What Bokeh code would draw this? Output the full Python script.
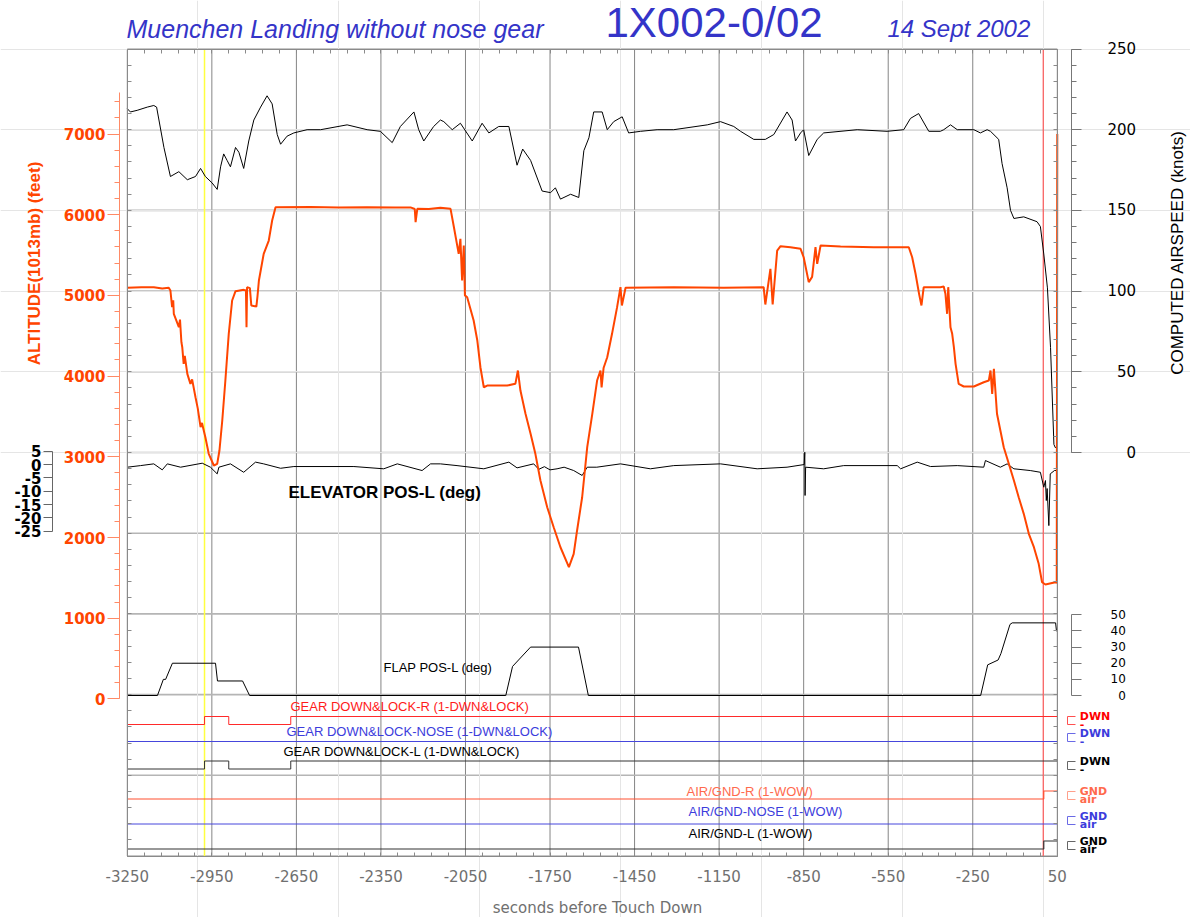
from bokeh.plotting import figure
from bokeh.models import Range1d, LinearAxis, FixedTicker, Label
from bokeh.embed import file_html
from bokeh.resources import INLINE

# ---------------- data ----------------
x_ticks = [-3250, -2950, -2650, -2350, -2050, -1750, -1450, -1150, -850, -550, -250, 50]
x_minor = list(range(-3250, 51, 60))
alt_ticks = [0, 1000, 2000, 3000, 4000, 5000, 6000, 7000]
spd_ticks = [0, 50, 100, 150, 200, 250]
elev_ticks = [5, 0, -5, -10, -15, -20, -25]
flap_ticks = [0, 10, 20, 30, 40, 50]
grid_kt = [-250, -200, -150, -100, -50, 0, 50, 100, 150, 200, 250]

alt_t = [-3250, -3200, -3156, -3126, -3103, -3097, -3091, -3087, -3085, -3067, -3063, -3058, -3055,
         -3050, -3046, -3037, -3026, -3020, -3008, -3000, -2990, -2985, -2973, -2961, -2943, -2931,
         -2923, -2913, -2902, -2890, -2878, -2866, -2837, -2829, -2827, -2825, -2815, -2810, -2792,
         -2788, -2783, -2766, -2748, -2736, -2724, -2600, -2500, -2400, -2300, -2245, -2230, -2227,
         -2221, -2180, -2139, -2103, -2091, -2074, -2068, -2062, -2056, -2052, -2044, -2021, -2008,
         -1997, -1985, -1973, -1902, -1873, -1864, -1855, -1837, -1819, -1802, -1784, -1760, -1737,
         -1713, -1683, -1666, -1654, -1636, -1618, -1600, -1583, -1571, -1567, -1560, -1547, -1530,
         -1512, -1500, -1495, -1482, -1311, -1134, -992, -986, -968, -960, -944, -932, -897, -861,
         -850, -832, -820, -808, -802, -790, -719, -601, -477, -465, -453, -440, -432, -424, -365,
         -353, -347, -341, -337, -329, -323, -317, -311, -300, -282, -246, -211, -193, -187, -181,
         -175, -164, -152, -140, -122, -104, -87, -69, -51, -33, -16, -4, 8, 43, 48, 50]
alt_ft = [5094, 5100, 5102, 5085, 5094, 5061, 4854, 4940, 4772, 4606, 4700, 4420, 4358,
          4152, 4250, 4028, 3904, 3960, 3738, 3600, 3367, 3420, 3243, 3037, 2892, 2913,
          3078, 3450, 3945, 4524, 4937, 5052, 5069, 5060, 4606, 5102, 5090, 4875, 4862,
          4990, 5185, 5515, 5680, 5928, 6093, 6095, 6090, 6092, 6088, 6090, 6070, 5907,
          6073, 6070, 6085, 6073, 5845, 5515, 5700, 5185, 5618, 5000, 4978, 4689, 4441,
          4110, 3862, 3883, 3883, 3904, 4069, 3821, 3533, 3285, 3037, 2706, 2375, 2127,
          1879, 1632, 1798, 2087, 2499, 3119, 3533, 3945, 4069, 3860, 4100, 4234, 4524,
          4854, 5102, 4875, 5094, 5102, 5094, 5102, 4887, 5330, 4887, 5556, 5610, 5597, 5577,
          5473, 5164, 5230, 5597, 5390, 5618, 5606, 5597, 5597, 5473, 5268, 5010, 4875, 5102, 5102,
          5110, 5020, 4772, 5102, 4606, 4524, 4358, 4152, 3904, 3871, 3871, 3924, 3945, 4069, 3780,
          4090, 3533, 3326, 3119, 2913, 2706, 2499, 2293, 2045, 1880, 1674, 1446, 1418, 1446, 1440, 7000]

spd_t = [-3250, -3239, -3215, -3179, -3156, -3146, -3120, -3097, -3067, -3037, -3008, -2990, -2973,
         -2949, -2931, -2919, -2908, -2896, -2884, -2866, -2854, -2837, -2819, -2801, -2777, -2754,
         -2736, -2718, -2706, -2683, -2659, -2612, -2564, -2470, -2399, -2352, -2310, -2281, -2233,
         -2216, -2198, -2163, -2139, -2127, -2103, -2097, -2068, -2026, -1991, -1967, -1932, -1896,
         -1867, -1847, -1819, -1778, -1748, -1731, -1713, -1677, -1648, -1630, -1612, -1595, -1565,
         -1547, -1524, -1494, -1471, -1429, -1370, -1311, -1192, -1145, -1098, -1074, -1027, -986,
         -956, -909, -891, -879, -861, -850, -832, -802, -779, -660, -554, -495, -471, -442, -406,
         -365, -353, -329, -305, -246, -223, -199, -187, -158, -146, -128, -116, -104, -69, -22,
         -10, 2, 15, 26, 38, 43, 50]
spd_kt = [213, 211, 212, 214, 215, 214, 189, 171, 174, 169, 171, 176, 171,
          167, 163, 177, 185, 181, 177, 189, 186, 176, 193, 206, 214, 221,
          216, 197, 191, 196, 198, 200, 200, 203, 200, 199, 192, 202, 211,
          200, 193, 202, 206, 205, 201, 200, 204, 193, 204, 198, 202, 202,
          178, 188, 181, 162, 161, 164, 157, 160, 158, 187, 195, 211, 211,
          200, 205, 208, 198, 199, 200, 200, 203, 205, 202, 199, 194, 194,
          197, 211, 206, 193, 198, 200, 184, 194, 198, 200, 199, 200, 207, 210, 199,
          199, 200, 203, 200, 200, 198, 200, 199, 194, 179, 164, 150, 145, 146, 143,
          140, 123, 102, 65, 5, 3, 4]

elev_t = [-3250, -3203, -3156, -3126, -3108, -3061, -2984, -2955, -2931, -2925, -2884, -2837, -2795,
          -2766, -2706, -2659, -2446, -2340, -2292, -2204, -2174, -2139, -2080, -1985, -1896, -1867,
          -1808, -1790, -1770, -1750, -1725, -1700, -1666, -1636, -1618, -1584, -1500, -1394, -1311,
          -1145, -1015, -909, -848, -846, -845, -843, -779, -708, -518, -506, -447, -400, -305, -211,
          -205, -152, -128, -104, -46, -10, 2, 8, 11, 14, 20, 25, 40, 50]
elev_deg = [-1.0, -0.4, 0.25, -2.0, 0.25, -1.0, 0.5, -1.0, -3.5, -1.0, 0.25, -2.9, 0.9,
            0.25, -1.4, -0.75, -0.75, -1.6, 0.25, -2.25, 0.25, 0.25, -0.4, -1.6, 0.9, -1.25,
            0.25, -1.8, -0.8, -2.0, -1.6, -1.0, -2.25, -4.1, -1.0, -1.0, 0.25, -1.6, -0.4,
            0.25, -1.6, -1.0, 0.0, 4.6, -11.6, -1.0, -1.6, -0.4, -0.4, -1.6, 0.9, -0.75, -0.4, -1.0,
            1.5, -1.0, 0.25, -1.6, -2.25, -2.9, -8.5, -6.0, -13.5, -9.0, -22.9, -3.5, -2.25, -2.25]

flap_t = [-3250, -3143, -3122, -3114, -3090, -2937, -2930, -2841, -2816, -1907, -1883, -1819,
          -1649, -1614, -222, -197, -160, -150, -118, -110, 44, 47, 50]
flap_deg = [0, 0, 10, 10, 20, 20, 9, 9, 0, 0, 18, 30, 30, 0, 0, 19, 22, 26, 44, 45, 45, 40, 40]

gear_r_t = [-3250, -2976, -2890, -2670, 50]
gear_r = [0, 1, 0, 1, 1]
gear_n_t = [-3250, 50]
gear_n = [0, 0]
gear_l_t = [-3250, -2976, -2890, -2670, 50]
gear_l = [0, 1, 0, 1, 1]
wow_r_t = [-3250, 2, 50]
wow_r = [0, 1, 1]
wow_n_t = [-3250, 50]
wow_n = [0, 0]
wow_l_t = [-3250, 2, 50]
wow_l = [0, 1, 1]

touchdown_t = 0
gear_event_t = -2976

# ---------------- layout ----------------
W, H = 1190, 917
M = 0
X_LEFT_PAGE = 126.8
PX_PER_S = 930.0 / 3300.0
FRAME_T = (x_ticks[0], x_ticks[-1])
FRAME_KT = (grid_kt[0], grid_kt[-1])


def t_at(xp):
    return -3250 + (xp - X_LEFT_PAGE) / PX_PER_S


def vrange(v_ref, yp_ref, ppu):
    top = v_ref + (yp_ref - M) / ppu
    bottom = v_ref - (M + H - yp_ref) / ppu
    return Range1d(start=bottom, end=top)


def kt_at(yp):
    return (452.0 - yp) / 1.614


BLUE = "#3434c8"
ORANGE = "#ff4500"

p = figure(width=W, height=H, output_backend="svg", toolbar_location=None,
           x_axis_location=None, y_axis_location=None,
           x_range=Range1d(t_at(M), t_at(M + W)), y_range=vrange(0, 452, 1.614),
           min_border=0, outline_line_color=None,
           background_fill_color="white", border_fill_color="white")

sig_specs = [
    ("gr", 724.0), ("gn", 741.0), ("gl", 768.5),
    ("wr", 798.5), ("wn", 823.5), ("wl", 848.5),
]
extra = {"alt": vrange(7000, 133.5, 0.0807),
         "elev": vrange(5, 450.7, 2.667),
         "flap": vrange(0, 695, 1.614)}
for name, base in sig_specs:
    extra[name] = vrange(0, base, 8.0)
p.extra_y_ranges = extra

# ---------------- grid (bounded to the plot box) ----------------
p.segment(x0=x_ticks, x1=x_ticks, y0=[FRAME_KT[0]] * len(x_ticks), y1=[FRAME_KT[1]] * len(x_ticks),
          line_color="#858585", line_width=1, level="underlay")
p.segment(x0=[FRAME_T[0]] * len(grid_kt), x1=[FRAME_T[1]] * len(grid_kt), y0=grid_kt, y1=grid_kt,
          line_color="#b5b5b5", line_width=1.6, level="underlay")

# ---------------- frame ticks ----------------
common_frame = dict(major_tick_in=0, major_tick_out=0, minor_tick_out=0, minor_tick_in=4,
                    axis_line_color="#8a8a8a", minor_tick_line_color="#8a8a8a",
                    major_tick_line_color="#8a8a8a")
xb = LinearAxis(fixed_location=FRAME_KT[0], bounds=FRAME_T,
                ticker=FixedTicker(ticks=x_ticks, minor_ticks=x_minor),
                major_label_text_color="#707070", major_label_text_font="DejaVu Sans",
                major_label_text_font_size="15px", major_label_standoff=14,
                major_label_overrides={t: str(t) for t in x_ticks}, **common_frame)
p.add_layout(xb, "below")
xt = LinearAxis(fixed_location=FRAME_KT[1], bounds=FRAME_T,
                ticker=FixedTicker(ticks=x_ticks, minor_ticks=x_minor),
                major_label_text_color=None, **common_frame)
p.add_layout(xt, "above")
frame_kt_minor = list(range(-250, 251, 10))
yl = LinearAxis(fixed_location=FRAME_T[0], bounds=FRAME_KT,
                ticker=FixedTicker(ticks=grid_kt, minor_ticks=frame_kt_minor),
                major_label_text_color=None, **common_frame)
p.add_layout(yl, "left")
yr = LinearAxis(fixed_location=FRAME_T[1], bounds=FRAME_KT,
                ticker=FixedTicker(ticks=grid_kt, minor_ticks=frame_kt_minor),
                major_label_text_color=None, **common_frame)
p.add_layout(yr, "right")

# ---------------- value axes ----------------
alt_ax = LinearAxis(y_range_name="alt", fixed_location=t_at(119), bounds=(0, 7520),
                    ticker=FixedTicker(ticks=alt_ticks, minor_ticks=list(range(0, 7600, 200))),
                    major_tick_out=12, major_tick_in=0, minor_tick_out=5, minor_tick_in=0,
                    axis_line_color="#ff8a66", major_tick_line_color="#ff8a66",
                    minor_tick_line_color="#ff8a66", major_label_text_color=ORANGE,
                    major_label_text_font="DejaVu Sans", major_label_text_font_style="bold",
                    major_label_text_font_size="15px", major_label_standoff=2)
p.add_layout(alt_ax, "left")

elev_ax = LinearAxis(y_range_name="elev", fixed_location=t_at(52), bounds=(-25, 5),
                     ticker=FixedTicker(ticks=elev_ticks, minor_ticks=[]),
                     major_tick_out=9, major_tick_in=0, minor_tick_out=0, minor_tick_in=0,
                     axis_line_color="#666666", major_tick_line_color="#666666",
                     major_label_text_color="black", major_label_text_font="DejaVu Sans",
                     major_label_text_font_style="bold", major_label_text_font_size="15px",
                     major_label_standoff=2,
                     major_label_overrides={v: str(v) for v in elev_ticks})
p.add_layout(elev_ax, "left")

spd_ax = LinearAxis(fixed_location=t_at(1071), bounds=(0, 250),
                    ticker=FixedTicker(ticks=spd_ticks, minor_ticks=list(range(0, 251, 10))),
                    major_tick_out=10, major_tick_in=0, minor_tick_out=5, minor_tick_in=0,
                    axis_line_color="#777777", major_tick_line_color="#777777",
                    minor_tick_line_color="#777777", major_label_text_color="black",
                    major_label_text_font="DejaVu Sans", major_label_text_font_size="15px",
                    major_label_standoff=26,
                    major_label_overrides={0: "\u2007\u20070", 50: "\u200750"})
p.add_layout(spd_ax, "right")

flap_ax = LinearAxis(y_range_name="flap", fixed_location=t_at(1071), bounds=(0, 50),
                     ticker=FixedTicker(ticks=flap_ticks, minor_ticks=[]),
                     major_tick_out=10, major_tick_in=0, minor_tick_out=0, minor_tick_in=0,
                     axis_line_color="#777777", major_tick_line_color="#777777",
                     major_label_text_color="black", major_label_text_font="DejaVu Sans",
                     major_label_text_font_size="12px", major_label_standoff=29,
                     major_label_overrides={0: "\u20070"})
p.add_layout(flap_ax, "right")

sig_style = {
    "gr": ("#ff5050", "#ff0000", "-", "DWN"),
    "gn": ("#6a6ae6", "#3c3cdc", "-", "DWN"),
    "gl": ("#666666", "black", "-", "DWN"),
    "wr": ("#ff9f8a", "#ff6a4d", "air", "GND"),
    "wn": ("#6a6ae6", "#3c3cdc", "air", "GND"),
    "wl": ("#666666", "black", "air", "GND"),
}
for name, base in sig_specs:
    lc, tc, lo, hi = sig_style[name]
    ax = LinearAxis(y_range_name=name, fixed_location=t_at(1067.3), bounds=(0, 1),
                    ticker=FixedTicker(ticks=[0, 1], minor_ticks=[]),
                    major_tick_out=8, major_tick_in=0, minor_tick_out=0, minor_tick_in=0,
                    axis_line_color=lc, major_tick_line_color=lc,
                    major_label_text_color=tc, major_label_text_font="DejaVu Sans",
                    major_label_text_font_style="bold", major_label_text_font_size="11px",
                    major_label_standoff=4, major_label_overrides={0: lo, 1: hi})
    p.add_layout(ax, "right")

# ---------------- data glyphs ----------------
p.segment(x0=[gear_event_t], x1=[gear_event_t], y0=[FRAME_KT[0]], y1=[FRAME_KT[1]],
          line_color="#ffff40", line_width=1.5)
p.segment(x0=[touchdown_t], x1=[touchdown_t], y0=[FRAME_KT[0]], y1=[FRAME_KT[1]],
          line_color="#ff3a3a", line_width=1)

p.line(flap_t, flap_deg, y_range_name="flap", line_color="black", line_width=1)
p.line(spd_t, spd_kt, line_color="black", line_width=1)
p.line(elev_t, elev_deg, y_range_name="elev", line_color="black", line_width=1)
p.line(alt_t, alt_ft, y_range_name="alt", line_color=ORANGE, line_width=2)

p.step(gear_r_t, gear_r, mode="after", y_range_name="gr", line_color="#ff2a2a", line_width=1)
p.step(gear_n_t, gear_n, mode="after", y_range_name="gn", line_color="#4646dc", line_width=1)
p.step(gear_l_t, gear_l, mode="after", y_range_name="gl", line_color="#333333", line_width=1)
p.step(wow_r_t, wow_r, mode="after", y_range_name="wr", line_color="#ff5030", line_width=1.2)
p.step(wow_n_t, wow_n, mode="after", y_range_name="wn", line_color="#4646dc", line_width=1)
p.step(wow_l_t, wow_l, mode="after", y_range_name="wl", line_color="#333333", line_width=1.2)


# ---------------- texts ----------------
def label(text, xp, yp, size, color, style="normal", align="left", baseline="middle",
          font="Liberation Sans", angle=0.0):
    p.add_layout(Label(x=t_at(xp), y=kt_at(yp), text=text, text_font=font,
                       text_font_size=f"{size}px", text_color=color, text_font_style=style,
                       text_align=align, text_baseline=baseline, angle=angle))


label("Muenchen Landing without nose gear", 126, 28, 25, BLUE, style="italic")
label("1X002-0/02", 605, 22, 42, BLUE)
label("14 Sept 2002", 887, 28, 24, BLUE, style="italic")

label("ALTITUDE(1013mb) (feet)", 34, 263, 17, ORANGE, style="bold", align="center", angle=1.5708)
label("COMPUTED AIRSPEED (knots)", 1177, 252, 17, "black", align="center", angle=1.5708)

label("ELEVATOR POS-L (deg)", 288, 492, 17, "black", style="bold")
label("FLAP POS-L (deg)", 383, 667, 13, "black")
label("GEAR DOWN&LOCK-R (1-DWN&LOCK)", 290, 706, 13, "#ff1a1a")
label("GEAR DOWN&LOCK-NOSE (1-DWN&LOCK)", 286, 731, 13, "#3c3cdc")
label("GEAR DOWN&LOCK-L (1-DWN&LOCK)", 283, 751, 13, "black")
label("AIR/GND-R (1-WOW)", 686, 791, 13, "#ff6a4d")
label("AIR/GND-NOSE (1-WOW)", 688, 811, 13, "#3c3cdc")
label("AIR/GND-L (1-WOW)", 688, 833, 13, "black")

label("seconds before Touch Down", 597, 907, 15, "#707070", align="center", font="DejaVu Sans")

open("out.html", "w").write(file_html(p, INLINE))
